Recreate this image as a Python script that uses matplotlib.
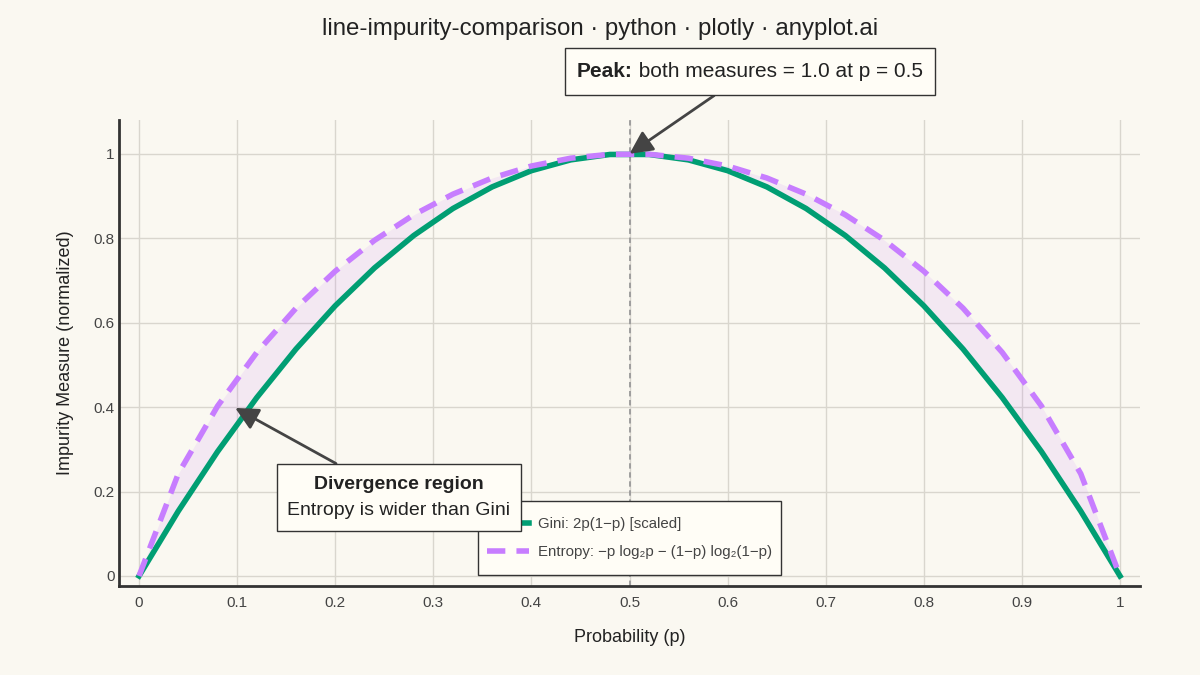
import matplotlib

matplotlib.use("Agg")
import matplotlib.pyplot as plt
from matplotlib.offsetbox import AnnotationBbox, DrawingArea, HPacker, TextArea, VPacker
from matplotlib.patches import Rectangle

BG = "#FAF8F1"
GREEN = "#009E73"
PURPLE = "#C77DFF"
DGRAY = "#333333"
TGRAY = "#444444"
LGRID = "#D9D6CE"
BOXFC = "#FFFDF6"

p_values = [0.00, 0.04, 0.08, 0.12, 0.16, 0.20, 0.24, 0.28, 0.32, 0.36, 0.40, 0.44, 0.48,
            0.52, 0.56, 0.60, 0.64, 0.68, 0.72, 0.76, 0.80, 0.84, 0.88, 0.92, 0.96, 1.00]
gini_scaled = [0.0, 0.1536, 0.2944, 0.4224, 0.5376, 0.64, 0.7296, 0.8064, 0.8704, 0.9216, 0.96,
               0.9856, 0.9984, 0.9984, 0.9856, 0.96, 0.9216, 0.8704, 0.8064, 0.7296, 0.64,
               0.5376, 0.4224, 0.2944, 0.1536, 0.0]
entropy = [0.0, 0.2423, 0.4022, 0.5294, 0.6343, 0.7219, 0.7950, 0.8555, 0.9044, 0.9427, 0.9710,
           0.9896, 0.9988, 0.9988, 0.9896, 0.9710, 0.9427, 0.9044, 0.8555, 0.7950, 0.7219,
           0.6343, 0.5294, 0.4022, 0.2423, 0.0]

x_ticks = [0, 0.1, 0.2, 0.3, 0.4, 0.5, 0.6, 0.7, 0.8, 0.9, 1.0]
x_tick_labels = ["0", "0.1", "0.2", "0.3", "0.4", "0.5", "0.6", "0.7", "0.8", "0.9", "1"]
y_ticks = [0, 0.2, 0.4, 0.6, 0.8, 1.0]
y_tick_labels = ["0", "0.2", "0.4", "0.6", "0.8", "1"]

plt.rcParams["font.family"] = ["Liberation Sans", "DejaVu Sans"]

W, H = 1200, 675
fig = plt.figure(figsize=(12, 6.75), dpi=100, facecolor=BG)
ax = fig.add_axes([0.0992, 0.1319, 0.8508, 0.6903])
ax.set_facecolor(BG)

ax.fill_between(p_values, gini_scaled, entropy, color=PURPLE, alpha=0.13, lw=0, zorder=2)
ax.plot(p_values, gini_scaled, color=GREEN, lw=4, zorder=3,
        label="Gini: 2p(1\u2212p) [scaled]")
ax.plot(p_values, entropy, color=PURPLE, lw=4, ls=(0, (3.3, 2.0)), zorder=4,
        label="Entropy: \u2212p log\u2082p \u2212 (1\u2212p) log\u2082(1\u2212p)")
ax.axvline(0.5, color="#999999", lw=1.3, ls=(0, (3, 2)), zorder=2.5)

ax.set_xlim(-0.0204, 1.0204)
ax.set_ylim(-0.0237, 1.08)
ax.set_xticks(x_ticks)
ax.set_xticklabels(x_tick_labels)
ax.set_yticks(y_ticks)
ax.set_yticklabels(y_tick_labels)
ax.tick_params(length=0, labelsize=11, colors=TGRAY)
ax.tick_params(axis="x", pad=7)
ax.tick_params(axis="y", pad=3)
ax.grid(True, color=LGRID, lw=1)
ax.set_axisbelow(True)
for side in ("top", "right"):
    ax.spines[side].set_visible(False)
for side in ("left", "bottom"):
    ax.spines[side].set_color(DGRAY)
    ax.spines[side].set_linewidth(2)

ax.set_xlabel("Probability (p)", fontsize=13, color="#222222", labelpad=14)
ax.set_ylabel("Impurity Measure (normalized)", fontsize=13, color="#222222", labelpad=14)

fig.text(0.5, 1 - 29 / H, "line-impurity-comparison \u00b7 python \u00b7 plotly \u00b7 anyplot.ai",
         ha="center", va="center", fontsize=17.3, color="#222222")

# legend: frame drawn by hand so the padding can match
ax.add_patch(Rectangle((478 / W, 1 - 575 / H), (781 - 478) / W, (575 - 501) / H,
                       transform=fig.transFigure, fc=BOXFC, ec=DGRAY, lw=1,
                       clip_on=False, zorder=4.9))
leg = ax.legend(loc="center left", bbox_to_anchor=(487 / W, 1 - 538 / H),
                bbox_transform=fig.transFigure, borderaxespad=0, borderpad=0,
                fontsize=10.8, frameon=False, handlelength=2.8, labelspacing=0.95,
                handletextpad=0.59)
leg.set_zorder(5)
for t in leg.get_texts():
    t.set_color(TGRAY)

arrow = dict(arrowstyle="-|>", color=TGRAY, lw=2, mutation_scale=25, shrinkA=0, shrinkB=0)

# Peak call-out
peak_box = HPacker(children=[
    DrawingArea(0, 16.6),
    TextArea("Peak:", textprops=dict(fontsize=15, fontweight="bold", color="#222222")),
    TextArea("both measures = 1.0 at p = 0.5", textprops=dict(fontsize=15, color="#222222")),
], sep=0, pad=0, align="center")
peak_box.get_children()[2]._text.set_text(" both measures = 1.0 at p = 0.5")
peak = AnnotationBbox(peak_box, (0.5, 1.0), xycoords="data",
                      xybox=(750, H - 71.5), boxcoords="figure pixels", frameon=True,
                      bboxprops=dict(boxstyle="square,pad=0.864", fc=BOXFC, ec=DGRAY, lw=1),
                      arrowprops=dict(arrow, relpos=(0.449, 0)), zorder=6)
ax.add_artist(peak)

# Divergence call-out
div_text = VPacker(children=[
    TextArea("Divergence region", textprops=dict(fontsize=14, fontweight="bold", color="#222222")),
    TextArea("Entropy is wider than Gini", textprops=dict(fontsize=14, color="#222222")),
], sep=6.5, pad=0, align="center")
div_box = HPacker(children=[DrawingArea(0, 33.8), div_text], sep=0, pad=0, align="center")
div = AnnotationBbox(div_box, (0.098, 0.398), xycoords="data",
                     xybox=(399, H - 497.5), boxcoords="figure pixels", frameon=True,
                     bboxprops=dict(boxstyle="square,pad=0.72", fc=BOXFC, ec=DGRAY, lw=1),
                     arrowprops=dict(arrow, relpos=(0.303, 1)), zorder=7)
ax.add_artist(div)

fig.savefig("out.png", dpi=100, facecolor=BG)
